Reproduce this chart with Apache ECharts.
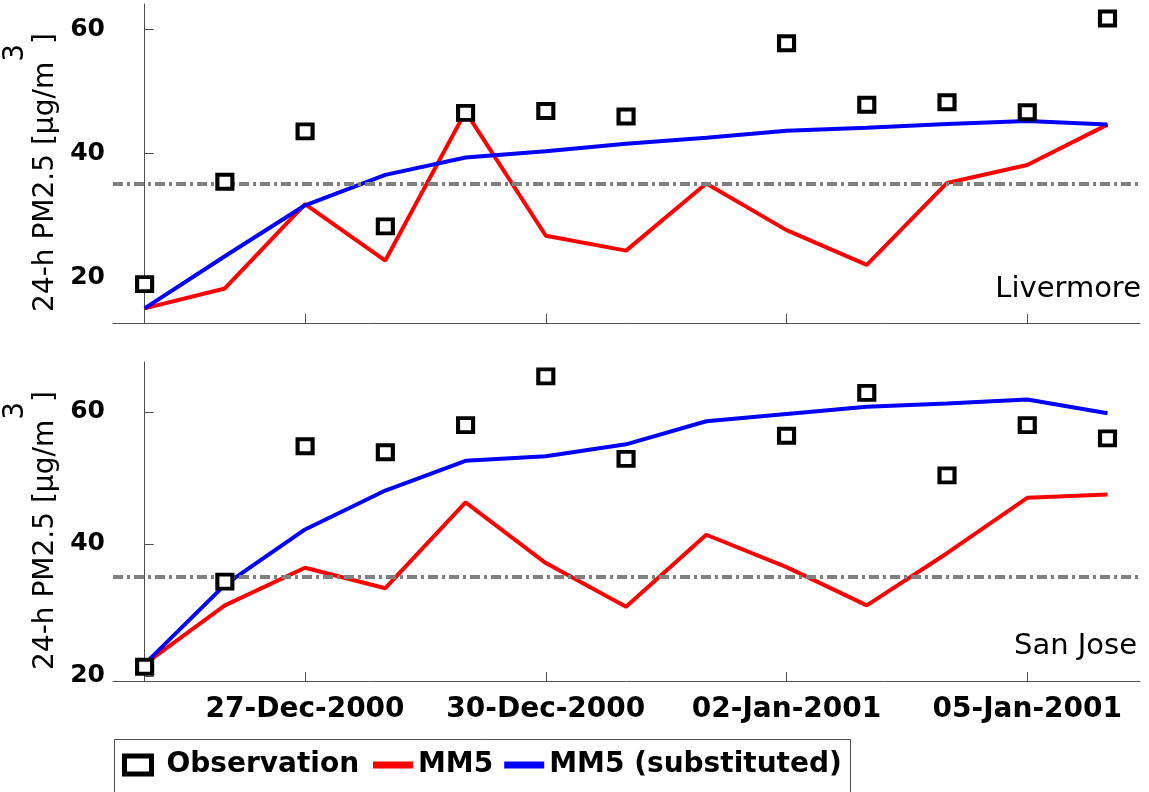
<!DOCTYPE html>
<html>
<head>
<meta charset="utf-8">
<script src="https://cdn.jsdelivr.net/npm/echarts@6/dist/echarts.min.js"></script>
<style>
html,body{margin:0;padding:0;background:#fff;}
#chart{width:1149px;height:792px;}
</style>
</head>
<body>
<div id="chart"></div>
<script>
// Days from 25-Dec-2000 (index 0) to 06-Jan-2001 (index 12)
const days = [0,1,2,3,4,5,6,7,8,9,10,11,12];
const tickDays = [2,5,8,11];
const tickLabels = ['27-Dec-2000','30-Dec-2000','02-Jan-2001','05-Jan-2001'];
const yTicks = [20,40,60];
const standard = 35;
const stations = ['Livermore','San Jose'];

const livermoreObs   = [18.9,35.4,43.5,28.2,46.5,46.8,45.9,null,57.7,47.8,48.2,46.6,61.7];
const livermoreMM5   = [15.0,18.2,31.8,22.7,46.7,26.7,24.3,35.1,27.6,22.0,35.2,38.1,44.6];
const livermoreSubst = [15.0,23.4,31.6,36.5,39.3,40.3,41.5,42.5,43.6,44.1,44.7,45.2,44.6];

const sanjoseObs   = [21.4,34.3,54.8,53.9,58.0,65.4,52.9,null,56.4,62.9,50.4,58.0,56.0];
const sanjoseMM5   = [21.8,30.7,36.4,33.3,46.3,37.1,30.5,41.4,36.5,30.7,38.6,47.0,47.5];
const sanjoseSubst = [21.8,33.8,42.2,48.1,52.6,53.3,55.1,58.6,59.7,60.8,61.3,61.9,59.8];

const pairs = (vals) => days.map((d,i)=> vals[i]==null ? null : [d, vals[i]]).filter(p=>p);

const axisColor = '#4d4d4d';
const FONT = 'DejaVu Sans';

function xAxis(gi, showLabels){
  return {
    type:'value', gridIndex:gi, min:-0.394, max:12.405,
    axisLine:{show:true, lineStyle:{color:axisColor, width:1}},
    axisTick:{show:true, inside:true, length:9, customValues:tickDays, lineStyle:{color:axisColor}},
    axisLabel:{show:showLabels, customValues:tickDays, margin:15,
      fontFamily:FONT, fontWeight:'bold', fontSize:28, color:'#000',
      formatter:(v)=>{const i=tickDays.indexOf(Math.round(v)); return i>=0?tickLabels[i]:'';}},
    splitLine:{show:false}
  };
}
function yAxis(gi, mn, mx){
  return {
    type:'value', gridIndex:gi, min:mn, max:mx,
    axisLine:{show:true, lineStyle:{color:axisColor, width:1}},
    axisTick:{show:true, inside:true, length:9, customValues:yTicks, lineStyle:{color:axisColor}},
    axisLabel:{customValues:yTicks, margin:8, fontFamily:FONT, fontWeight:'bold', fontSize:25, color:'#000'},
    splitLine:{show:false},
    name:'{h|\u200b}{t|24-h PM2.5 [µg/m}{s|3}{t|]}',
    nameLocation:'middle', nameGap:50, nameRotate:90,
    nameTextStyle:{
      padding:[0,18,0,0],
      rich:{
        h:{fontSize:28, lineHeight:58, fontFamily:FONT},
        t:{fontSize:28, lineHeight:32, verticalAlign:'bottom', fontFamily:FONT, color:'#000'},
        s:{fontSize:28, lineHeight:32, verticalAlign:'top', fontFamily:FONT, color:'#000'}
      }
    }
  };
}

function panelSeries(gi, obs, mm5, subst){
  return [
    {type:'line', name:'std', xAxisIndex:gi, yAxisIndex:gi, data:[], silent:true, z:1,
     markLine:{silent:true, symbol:'none', label:{show:false},
       lineStyle:{color:'#808080', width:4, type:[10,4,3,4], opacity:1},
       data:[{yAxis:standard}]}},
    {type:'line', name:'MM5', xAxisIndex:gi, yAxisIndex:gi, data:pairs(mm5), symbol:'none', z:3,
     color:'#ff0000', lineStyle:{color:'#ff0000', width:4}},
    {type:'line', name:'MM5 (substituted)', xAxisIndex:gi, yAxisIndex:gi, data:pairs(subst), symbol:'none', z:4,
     color:'#0000ff', lineStyle:{color:'#0000ff', width:4}},
    {type:'scatter', name:'Observation', xAxisIndex:gi, yAxisIndex:gi, data:pairs(obs), z:5,
     symbol:'rect', symbolSize:[15,14],
     itemStyle:{color:'#fff', borderColor:'#000', borderWidth:4, opacity:1}}
  ];
}

const chart = echarts.init(document.getElementById('chart'), null, {renderer:'canvas'});
chart.setOption({
  animation:false,
  backgroundColor:'#fff',
  grid:[
    {left:113, width:1027, top:4, height:319, outerBoundsMode:'none', containLabel:false},
    {left:113, width:1027, top:362, height:319, outerBoundsMode:'none', containLabel:false}
  ],
  xAxis:[xAxis(0,false), xAxis(1,true)],
  yAxis:[yAxis(0,12.64,64.03), yAxis(1,19.24,67.57)],
  legend:[
    {left:122, top:751, selectedMode:false, itemWidth:27, itemHeight:18, padding:0,
     data:[{name:'Observation', icon:'rect', itemStyle:{color:'#fff', borderColor:'#000', borderWidth:5, opacity:1}}],
     textStyle:{fontFamily:FONT, fontWeight:'bold', fontSize:28, color:'#000', padding:[0,0,0,10]}},
    {left:373, top:751, selectedMode:false, itemWidth:40, itemHeight:7, itemGap:11, padding:0,
     data:[{name:'MM5', icon:'rect'},{name:'MM5 (substituted)', icon:'rect'}],
     textStyle:{fontFamily:FONT, fontWeight:'bold', fontSize:28, color:'#000'}}
  ],
  graphic:[
    {type:'rect', left:112, top:737, shape:{width:736, height:70}, style:{fill:'none', stroke:axisColor, lineWidth:1}, silent:true, z:0},
    {type:'text', x:1141, y:289, style:{text:stations[0], fontFamily:FONT, fontSize:29, fill:'#000', align:'right', verticalAlign:'middle'}},
    {type:'text', x:1137, y:646, style:{text:stations[1], fontFamily:FONT, fontSize:29, fill:'#000', align:'right', verticalAlign:'middle'}}
  ],
  series:[].concat(
    panelSeries(0, livermoreObs, livermoreMM5, livermoreSubst),
    panelSeries(1, sanjoseObs, sanjoseMM5, sanjoseSubst)
  )
});
</script>
</body>
</html>
